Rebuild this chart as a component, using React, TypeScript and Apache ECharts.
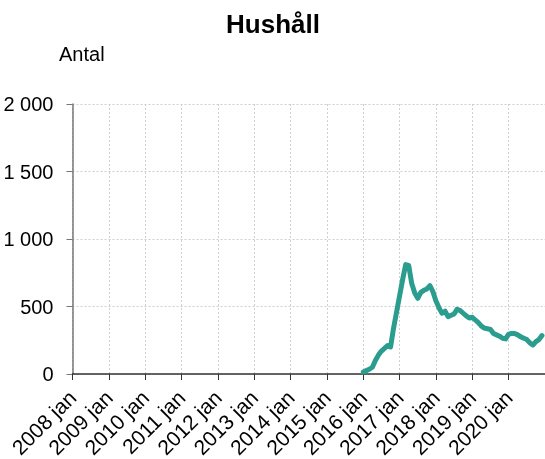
import React, { useEffect, useRef } from "react";
import * as echarts from "echarts";

// Monthly categories from 2008 jan through 2021 jan
const FIRST_YEAR = 2008;
const LAST_YEAR = 2021;
const months: string[] = [];
for (let y = FIRST_YEAR; y < LAST_YEAR; y++) {
  for (let m = 1; m <= 12; m++) months.push(`${y}-${String(m).padStart(2, "0")}`);
}
months.push(`${LAST_YEAR}-01`);

// Series: households, monthly from 2016 jan to 2020 dec
const seriesStart = "2016-01";
const hushall = [
  15, 25, 35, 50, 100, 140, 170, 190, 210, 200, 340, 460,
  580, 700, 810, 805, 670, 600, 560, 605, 620, 630, 655, 610,
  540, 490, 450, 465, 425, 435, 445, 480, 470, 450, 430, 415,
  420, 400, 380, 355, 340, 335, 330, 300, 290, 280, 265, 260,
  295, 300, 300, 290, 275, 265, 255, 230, 215, 240, 255, 285,
];

const yTicks = [0, 500, 1000, 1500, 2000];

const FONT = "'Liberation Sans', Arial, sans-serif";

const fmtThousands = (v: number) =>
  String(v).replace(/\B(?=(\d{3})+(?!\d))/g, " ");

const monthLabel = (key: string) => `${key.slice(0, 4)} jan`;

export default function App() {
  const ref = useRef<HTMLDivElement>(null);

  useEffect(() => {
    if (!ref.current) return;
    const chart = echarts.init(ref.current, undefined, { renderer: "svg" });

    const startIdx = months.indexOf(seriesStart);
    const data = months.map((_, i) => {
      const k = i - startIdx;
      return k >= 0 && k < hushall.length ? hushall[k] : "-";
    });
    const yearly = (idx: number) => idx % 12 === 0 && idx < months.length - 1;

    chart.setOption({
      animation: false,
      title: {
        text: "Hushåll",
        left: 268,
        textAlign: "center",
        top: 6,
        textStyle: { fontFamily: FONT, fontSize: 26, fontWeight: "bold", color: "#000" },
      },
      graphic: [
        {
          type: "text",
          left: 59,
          top: 44,
          style: { text: "Antal", fontFamily: FONT, fontSize: 20, fill: "#000" },
        },
      ],
      grid: {
        left: 72.5,
        right: 0,
        top: 104,
        bottom: 85,
        containLabel: false,
        outerBoundsMode: "none",
      },
      xAxis: {
        type: "category",
        data: months,
        boundaryGap: false,
        axisLine: { lineStyle: { color: "#333", width: 1.5 } },
        axisTick: { interval: yearly, length: 6, lineStyle: { color: "#333" } },
        axisLabel: {
          interval: yearly,
          rotate: 45,
          margin: 20,
          fontFamily: FONT,
          fontSize: 21,
          color: "#000",
          formatter: (v: string) => monthLabel(v),
        },
        splitLine: {
          show: true,
          interval: yearly,
          lineStyle: { color: "#cfcfcf", type: [2, 2], width: 1 },
        },
      },
      yAxis: {
        type: "value",
        min: yTicks[0],
        max: yTicks[yTicks.length - 1],
        interval: 500,
        axisLine: { show: true, lineStyle: { color: "#777", width: 1.5 } },
        axisTick: { show: true, length: 6, lineStyle: { color: "#777" } },
        axisLabel: {
          margin: 19,
          fontFamily: FONT,
          fontSize: 20,
          color: "#000",
          formatter: (v: number) => fmtThousands(v),
        },
        splitLine: { lineStyle: { color: "#cfcfcf", type: [2, 2], width: 1 } },
      },
      series: [
        {
          type: "line",
          data,
          showSymbol: false,
          connectNulls: false,
          lineStyle: { color: "#2a9d8f", width: 5, join: "round", cap: "round" },
          itemStyle: { color: "#2a9d8f" },
        },
      ],
    });

    return () => chart.dispose();
  }, []);

  return (
    <div
      ref={ref}
      style={{ position: "fixed", left: 0, top: 0, width: 545, height: 459 }}
    />
  );
}
